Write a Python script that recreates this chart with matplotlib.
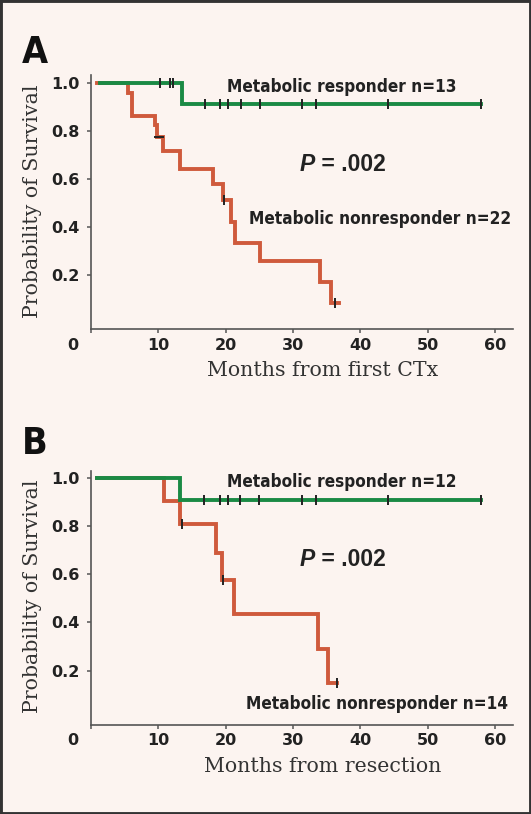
import matplotlib
matplotlib.use("Agg")
import matplotlib.pyplot as plt
from matplotlib.patches import Rectangle

# Panel A: months from first CTx
a_resp_t = [1.35, 13.5, 58.0]
a_resp_s = [1.0, 0.91, 0.91]
a_resp_cens = [10.2, 11.7, 12.2, 16.9, 19.2, 20.4, 22.3, 25.1, 31.3, 33.5, 44.2, 58.0]
a_non_t = [0.9, 5.45, 6.1, 9.5, 9.85, 10.7, 13.2, 18.2, 19.6, 20.8, 21.4, 25.1, 34.0, 35.6, 36.8]
a_non_s = [1.0, 0.957, 0.859, 0.823, 0.774, 0.716, 0.641, 0.577, 0.512, 0.422, 0.334, 0.258, 0.173, 0.083, 0.083]
a_non_cens = [19.8, 36.3]
a_non_cens_flat = [10.1]

# Panel B: months from resection
b_resp_t = [0.85, 13.2, 58.0]
b_resp_s = [1.0, 0.908, 0.908]
b_resp_cens = [16.8, 19.2, 20.3, 22.2, 25.0, 31.3, 33.4, 44.2, 58.0]
b_non_t = [0.85, 10.9, 13.2, 18.6, 19.4, 21.3, 33.8, 35.2, 36.6]
b_non_s = [1.0, 0.903, 0.808, 0.687, 0.576, 0.435, 0.289, 0.148, 0.148]
b_non_cens = [13.5, 19.6, 36.6]

x_ticks = [0, 10, 20, 30, 40, 50, 60]
y_ticks = [0.2, 0.4, 0.6, 0.8, 1.0]

BG = "#fcf4f0"
GREEN = "#1a8a44"
RED = "#cf5a3c"
INK = "#222222"
NARROW = dict(family="DejaVu Sans", fontstretch="condensed", fontweight="bold")

W, H = 531, 814
fig = plt.figure(figsize=(W / 100, H / 100), dpi=100)
fig.patch.set_facecolor(BG)
fig.patches.append(Rectangle((0, 0), 1, 1, transform=fig.transFigure,
                             fill=False, edgecolor="#333333", lw=3.5))


def surv_at(t, times, surv):
    s = surv[0]
    for tt, ss in zip(times, surv):
        if tt <= t:
            s = ss
    return s


def panel(ax, resp, non, resp_lab, non_lab, txt, xlab, ylab_y):
    ax.set_facecolor(BG)
    rt, rs, rc = resp
    nt, ns, nc, nflat = non
    ax.step(nt, ns, where="post", color=RED, lw=2.8, solid_joinstyle="miter", zorder=2)
    ax.step(rt, rs, where="post", color=GREEN, lw=2.8, solid_joinstyle="miter", zorder=3)
    ax.plot(rc, [surv_at(t, rt, rs) for t in rc], ls="none", marker="|",
            ms=7, mew=1.4, color=INK, zorder=4)
    ax.plot(nc, [surv_at(t, nt, ns) for t in nc], ls="none", marker="|",
            ms=7, mew=1.4, color=INK, zorder=4)
    if nflat:
        ax.plot(nflat, [surv_at(t, nt, ns) for t in nflat], ls="none", marker="_",
                ms=7, mew=1.4, color=INK, zorder=4)

    ax.set_xlim(0, 62.7)
    ax.set_ylim(-0.025, 1.03)
    ax.set_xticks(x_ticks)
    ax.set_xticklabels([""] + [str(v) for v in x_ticks[1:]])
    ax.set_yticks(y_ticks)
    ax.set_yticklabels([f"{v:.1f}" for v in y_ticks])
    for s in ["top", "right"]:
        ax.spines[s].set_visible(False)
    for s in ["left", "bottom"]:
        ax.spines[s].set_color("#555555")
        ax.spines[s].set_linewidth(1.2)
    ax.tick_params(axis="both", direction="out", length=3, width=1.1, color="#555555",
                   labelcolor=INK)
    ax.tick_params(axis="x", pad=3)
    ax.tick_params(axis="y", pad=5)
    for lab in ax.get_xticklabels() + ax.get_yticklabels():
        lab.set_fontweight("bold")
        lab.set_fontsize(11.5)
        lab.set_family("DejaVu Sans")
    ax.annotate("0", xy=(0, 0), xycoords="axes fraction", xytext=(-13, -11.5),
                textcoords="offset points", ha="center", va="center",
                fontsize=11.5, fontweight="bold", color=INK)

    ax.text(resp_lab[0], resp_lab[1], resp_lab[2], fontsize=12.3, color=INK,
            va="baseline", **NARROW)
    ax.text(non_lab[0], non_lab[1], non_lab[2], fontsize=12.3, color=INK,
            va="baseline", **NARROW)
    p = ax.text(txt[0], txt[1], "P", family="Liberation Sans", fontweight="bold",
                fontstyle="italic", fontsize=16.5, color=INK, va="baseline")
    ax.annotate(" = .002", xy=(1, 0), xycoords=p, va="bottom", ha="left",
                family="Liberation Sans", fontweight="bold", fontsize=16.5, color=INK)

    fig.text(323 / W, 1 - xlab[1] / H, xlab[0], family="DejaVu Serif", fontsize=14.8,
             color="#333333", ha="center", va="center")
    fig.text(33 / W, 1 - ylab_y / H, "Probability of Survival", family="DejaVu Serif",
             fontsize=14.8, color="#333333", ha="center", va="center", rotation=90)


ax_a = fig.add_axes([91 / W, 1 - 329.3 / H, 422 / W, 254 / H])
panel(ax_a, (a_resp_t, a_resp_s, a_resp_cens),
      (a_non_t, a_non_s, a_non_cens, a_non_cens_flat),
      (20.2, 0.961, "Metabolic responder n=13"),
      (23.5, 0.412, "Metabolic nonresponder n=22"),
      (31.0, 0.633), ("Months from first CTx", 370.7), 201)

ax_b = fig.add_axes([91 / W, 1 - 725 / H, 422 / W, 254.5 / H])
panel(ax_b, (b_resp_t, b_resp_s, b_resp_cens),
      (b_non_t, b_non_s, b_non_cens, []),
      (20.2, 0.963, "Metabolic responder n=12"),
      (23.0, 0.04, "Metabolic nonresponder n=14"),
      (31.0, 0.634), ("Months from resection", 766.7), 596)

fig.text(22 / W, 1 - 63 / H, "A", fontsize=27, color="#111111", ha="left",
         va="baseline", **NARROW)
fig.text(22 / W, 1 - 454 / H, "B", fontsize=27, color="#111111", ha="left",
         va="baseline", **NARROW)

fig.savefig("out.png", dpi=100, facecolor=BG)
